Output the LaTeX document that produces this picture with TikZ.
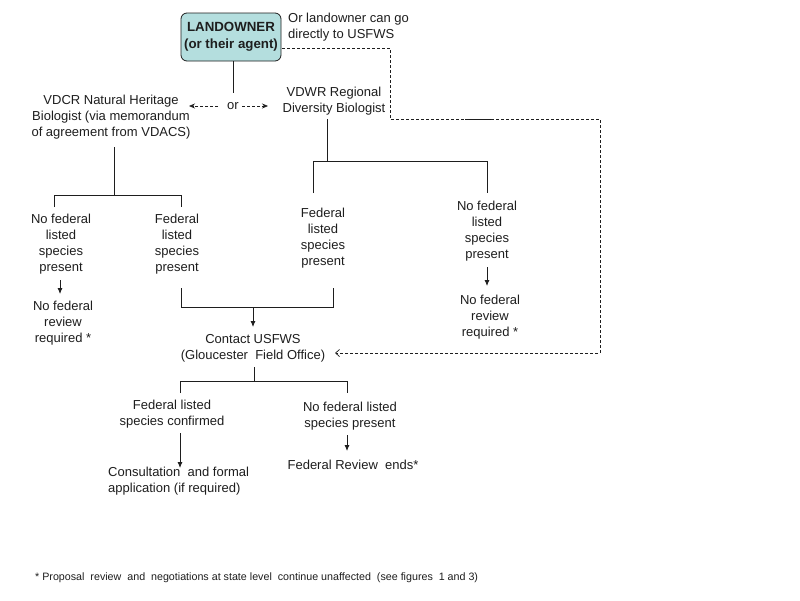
\documentclass[tikz,border=0pt]{standalone}
\usepackage{fontspec}
\setmainfont{Liberation Sans}
\usetikzlibrary{arrows.meta}
\definecolor{boxfill}{RGB}{180,222,222}
\definecolor{ink}{RGB}{30,30,30}
\begin{document}
\begin{tikzpicture}[x=1pt,y=-1pt,
  txt/.style={font=\fontsize{13}{16}\selectfont, align=center, inner sep=0pt, text=ink},
  ownerbox/.style={draw=ink, line width=0.8pt, rounded corners=6pt, fill=boxfill,
    minimum width=100pt, minimum height=48pt, inner sep=0pt, align=center,
    font=\fontsize{13.3}{17}\selectfont\bfseries, text=ink},
  ln/.style={draw=ink, line width=0.8pt},
  arr/.style={ln, -{Latex[length=6pt,width=5pt]}},
  dsh/.style={draw=ink, line width=0.7pt, dash pattern=on 3pt off 2pt},
  dsharr/.style={dsh, -{Stealth[length=6pt,width=5pt]}},
  dshopen/.style={dsh, -{Straight Barb[length=4pt,width=7pt]}}]
\useasboundingbox (0,0) rectangle (800,600);
\fill[white] (0,0) rectangle (800,600);

% nodes
\node[ownerbox] (land) at (231,37) {LANDOWNER\\(or their agent)};
\node[txt, align=left, anchor=north west] (direct) at (288,13) {Or landowner can go\\directly to USFWS};
\node[txt] (vdcr) at (111,117) {VDCR Natural Heritage\\Biologist (via memorandum\\of agreement from VDACS)};
\node[txt] (vdwr) at (334,101) {VDWR Regional\\Diversity Biologist};
\node[txt] (or) at (233,106) {or};

\node[txt] (nf1) at (61,244) {No federal\\listed\\species\\present};
\node[txt] (nr1) at (63,323) {No federal\\review\\required *};
\node[txt] (f1) at (177,244) {Federal\\listed\\species\\present};
\node[txt] (f2) at (323,238) {Federal\\listed\\species\\present};
\node[txt] (nf2) at (487,231) {No federal\\listed\\species\\present};
\node[txt] (nr2) at (490,317) {No federal\\review\\required *};

\node[txt] (contact) at (253,348) {Contact USFWS\\(Gloucester\ \ Field Office)};
\node[txt] (fc) at (172,414) {Federal listed\\species confirmed};
\node[txt] (nf3) at (350,416) {No federal listed\\species present};
\node[txt, align=left, anchor=west] (cons) at (108,481) {Consultation\ \ and formal\\application (if required)};
\node[txt] (fre) at (353,465) {Federal Review\ \ ends*};

\node[txt, font=\fontsize{10.7}{12}\selectfont, anchor=west] (foot) at (35,578)
  {* Proposal\ \ review\ \ and\ \ negotiations at state level\ \ continue unaffected\ \ (see figures\ \ 1 and 3)};

% coordinates
\coordinate (landS) at (233,61);
\coordinate (landE) at (282,48);
\coordinate (orTop) at (233,93);
\coordinate (orL) at (218,106);
\coordinate (orLtip) at (189,106);
\coordinate (orR) at (242,106);
\coordinate (orRtip) at (268,106);

\coordinate (d1) at (390,48);
\coordinate (d2) at (390,119);
\coordinate (d3) at (600,119);
\coordinate (d4) at (600,353);
\coordinate (dend) at (335,353);

\coordinate (vdcrB) at (114,147);
\coordinate (b1) at (114,195);
\coordinate (b1l) at (54,195);
\coordinate (b1r) at (181,195);
\coordinate (b1ld) at (54,207);
\coordinate (b1rd) at (181,207);

\coordinate (vdwrB) at (327,119);
\coordinate (b2) at (327,161);
\coordinate (b2l) at (313,161);
\coordinate (b2r) at (487,161);
\coordinate (b2ld) at (313,193);
\coordinate (b2rd) at (487,193);

\coordinate (a1s) at (60,280);
\coordinate (a1e) at (60,294);
\coordinate (a2s) at (487,267);
\coordinate (a2e) at (487,286);

\coordinate (j1) at (181,288);
\coordinate (j1b) at (181,307);
\coordinate (j2) at (333,288);
\coordinate (j2b) at (333,307);
\coordinate (jm) at (253,307);
\coordinate (jme) at (253,327);

\coordinate (cB) at (254,367);
\coordinate (c1) at (254,381);
\coordinate (c1l) at (180,381);
\coordinate (c1r) at (347,381);
\coordinate (c1ld) at (180,393);
\coordinate (c1rd) at (347,393);

\coordinate (a3s) at (180,433);
\coordinate (a3e) at (180,468);
\coordinate (a4s) at (347,435);
\coordinate (a4e) at (347,451);

\coordinate (art1) at (465,119);
\coordinate (art2) at (492,119);

% connectors
\draw[ln] (landS) -- (orTop);
\draw[dsharr] (orL) -- (orLtip);
\draw[dsharr] (orR) -- (orRtip);
\draw[dshopen] (landE) -- (d1) -- (d2) -- (d3) -- (d4) -- (dend);
\draw[ln] (art1) -- (art2);

\draw[ln] (vdcrB) -- (b1);
\draw[ln] (b1ld) -- (b1l) -- (b1r) -- (b1rd);
\draw[ln] (vdwrB) -- (b2);
\draw[ln] (b2ld) -- (b2l) -- (b2r) -- (b2rd);

\draw[arr] (a1s) -- (a1e);
\draw[arr] (a2s) -- (a2e);
\draw[ln] (j1) -- (j1b) -- (j2b) -- (j2);
\draw[arr] (jm) -- (jme);

\draw[ln] (cB) -- (c1);
\draw[ln] (c1ld) -- (c1l) -- (c1r) -- (c1rd);
\draw[arr] (a3s) -- (a3e);
\draw[arr] (a4s) -- (a4e);
\end{tikzpicture}
\end{document}
